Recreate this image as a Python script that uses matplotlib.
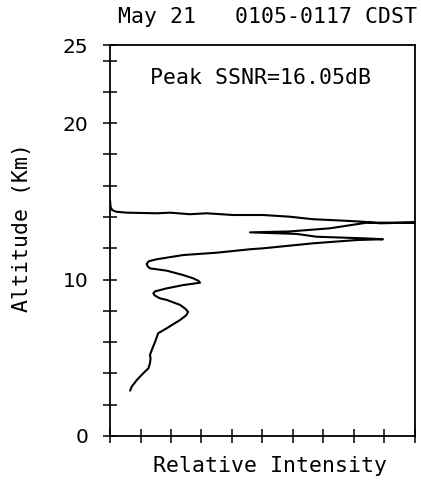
import matplotlib
matplotlib.use("Agg")
import matplotlib.pyplot as plt

# Relative intensity profile, in path order (bottom -> top)
intensity = [0.66, 0.71, 0.88, 1.09, 1.26, 1.31, 1.33, 1.31, 1.37, 1.48, 1.58,
             1.86, 2.30, 2.50, 2.56, 2.48, 2.30, 1.86, 1.64, 1.47, 1.42, 1.48,
             1.86, 2.40, 2.95, 2.90, 2.73, 2.40, 1.86, 1.31, 1.24, 1.20, 1.27,
             1.53, 2.40, 3.50, 4.59, 5.02, 6.66, 8.09, 8.95, 8.30, 6.78, 6.12,
             4.59, 5.90, 7.21, 8.42, 9.18, 10.05, 8.85, 8.30, 7.64, 6.66, 5.90,
             5.02, 4.03, 3.17, 2.62, 1.97, 1.53, 0.55, 0.20, 0.07, 0.02, 0.0]
altitude = [2.90, 3.15, 3.58, 4.01, 4.33, 4.65, 4.95, 5.18, 5.50, 6.03, 6.57,
            6.89, 7.42, 7.72, 7.93, 8.12, 8.38, 8.70, 8.80, 8.98, 9.12, 9.25,
            9.44, 9.65, 9.80, 9.92, 10.08, 10.29, 10.57, 10.72, 10.84, 11.00, 11.17,
            11.30, 11.57, 11.72, 11.94, 12.00, 12.32, 12.53, 12.58, 12.64, 12.74, 12.92,
            13.02, 13.08, 13.28, 13.64, 13.64, 13.65, 13.60, 13.70, 13.77, 13.86, 14.02,
            14.13, 14.13, 14.24, 14.18, 14.28, 14.24, 14.28, 14.34, 14.45, 14.64, 15.10]

ytick_vals = [0, 2, 4, 6, 8, 10, 12, 14, 16, 18, 20, 22, 24, 25]
ytick_labels = ["0", "", "", "", "", "10", "", "", "", "", "20", "", "", "25"]
xtick_vals = [0, 1, 2, 3, 4, 5, 6, 7, 8, 9, 10]

title = "May 21   0105-0117 CDST"
annotation = "Peak SSNR=16.05dB"
xlabel = "Relative Intensity"
ylabel = "Altitude (Km)"

mono = "DejaVu Sans Mono"

fig = plt.figure(figsize=(4.21, 4.86), dpi=100)
ax = fig.add_axes([0.2613, 0.1029, 0.7244, 0.8045])

ax.plot(intensity, altitude, color="black", lw=1.5, solid_joinstyle="round",
        solid_capstyle="round")

ax.set_xlim(0, 10)
ax.set_ylim(0, 25)
ax.set_yticks(ytick_vals)
ax.set_yticklabels(ytick_labels, fontsize=14.5, family="DejaVu Sans")
ax.set_xticks(xtick_vals)
ax.set_xticklabels([])
ax.tick_params(axis="both", direction="inout", length=9.4, width=1.1, color="black")
ax.tick_params(axis="y", pad=11)
for s in ax.spines.values():
    s.set_linewidth(1.3)
    s.set_color("black")

ax.text(1.31, 22.9, annotation, ha="left", va="center", fontsize=15.5, family=mono)

fig.text(267.5 / 421, 1 - 17 / 486, title, ha="center", va="center",
         fontsize=15.5, family=mono)
fig.text(270 / 421, 1 - 466 / 486, xlabel, ha="center", va="center",
         fontsize=15.5, family=mono)
fig.text(22 / 421, 1 - 228 / 486, ylabel, ha="center", va="center",
         rotation=90, fontsize=15.5, family=mono)

fig.savefig("out.png", dpi=100, facecolor="white")
